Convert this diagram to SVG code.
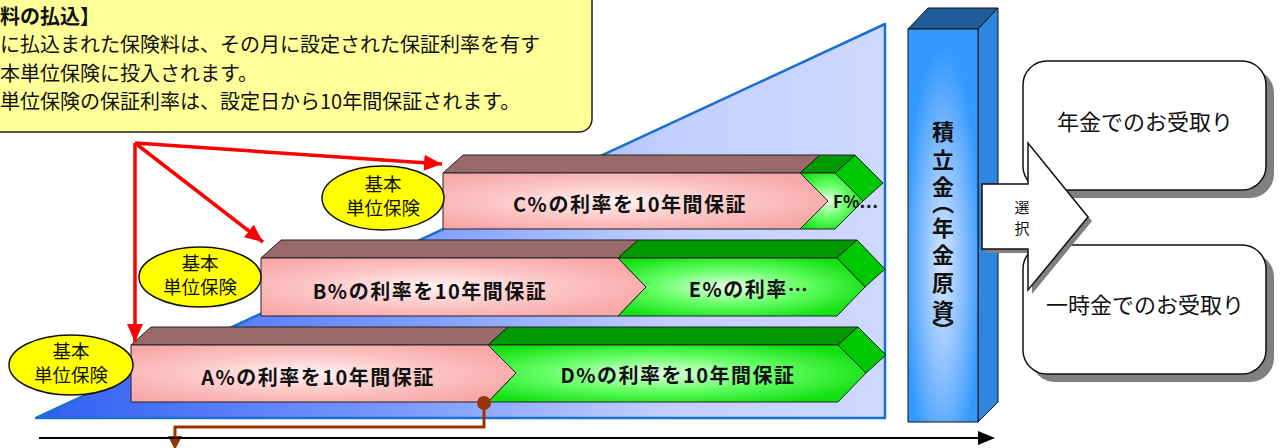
<svg xmlns="http://www.w3.org/2000/svg" width="1283" height="448" viewBox="0 0 1283 448">
<defs>
<linearGradient id="gTrap" x1="0" y1="0" x2="1" y2="0">
<stop offset="0" stop-color="#2f5ff2"/><stop offset="0.45" stop-color="#7f9cff"/><stop offset="0.75" stop-color="#c3d0ff"/><stop offset="1" stop-color="#cdd9ff"/>
</linearGradient>
<radialGradient id="gPink" cx="0.45" cy="0.5" r="0.6">
<stop offset="0" stop-color="#fff4f4"/><stop offset="0.55" stop-color="#fcc4c4"/><stop offset="1" stop-color="#f8a8a8"/>
</radialGradient>
<radialGradient id="gGreen" cx="0.45" cy="0.5" r="0.6">
<stop offset="0" stop-color="#e8ffe8"/><stop offset="0.5" stop-color="#66ff66"/><stop offset="1" stop-color="#11e011"/>
</radialGradient>
<radialGradient id="gCol" cx="0.5" cy="0.6" r="0.55">
<stop offset="0" stop-color="#d6e8ff"/><stop offset="0.5" stop-color="#8cc0ff"/><stop offset="1" stop-color="#3399ff"/>
</radialGradient>
<marker id="mRed" markerUnits="userSpaceOnUse" markerWidth="20" markerHeight="16" refX="18" refY="8" orient="auto">
<path d="M0,0 L18,8 L0,16 z" fill="#ff0000"/>
</marker>
<style>
.face{stroke:#222;stroke-width:1;stroke-linejoin:round}
.brown{fill:#996a6a}
.gtop{fill:#009a00}
.gside{fill:#00c800}
.pink{fill:url(#gPink)}
.green{fill:url(#gGreen)}
.bt{font-family:"Noto Sans CJK JP","Liberation Sans",sans-serif;font-weight:bold;font-size:20px;letter-spacing:1.5px;fill:#111;text-anchor:middle}
.ell{fill:#ffff00;stroke:#111;stroke-width:1.5}
.et{font-family:"Noto Sans CJK JP",sans-serif;font-size:18.5px;fill:#111;text-anchor:middle}
.red{stroke:#ff0000;stroke-width:3.5;fill:none;marker-end:url(#mRed)}
.jt{font-family:"Noto Sans CJK JP",sans-serif;fill:#111}
</style>
</defs>

<g id="background-trapezoid">
<polygon points="36,418 885,24 885,418" fill="url(#gTrap)" stroke="#1a6fd0" stroke-width="2.5" stroke-linejoin="round"/>
</g>

<g id="bar-C">
<polygon class="face brown" points="443,173 463,155 820,155 800,173"/>
<polygon class="face gtop" points="800,173 820,155 855,155 835,173"/>
<polygon class="face gside" points="835,173 855,155 883,183 863,201"/>
<polygon class="face pink" points="443,173 800,173 828,201 800,229 443,229"/>
<polygon class="face green" points="800,173 835,173 863,201 835,229 800,229 828,201"/>
<text class="bt" x="630" y="212">C%の利率を10年間保証</text>
<text class="bt" x="833" y="208" style="text-anchor:start;font-size:17px;letter-spacing:0">F%…</text>
</g>

<g id="bar-B">
<polygon class="face brown" points="261,258 281,240 638,240 618,258"/>
<polygon class="face gtop" points="618,258 638,240 857,240 837,258"/>
<polygon class="face gside" points="837,258 857,240 885,269 865,287"/>
<polygon class="face pink" points="261,258 618,258 646,287 618,316 261,316"/>
<polygon class="face green" points="618,258 837,258 865,287 837,316 618,316 646,287"/>
<text class="bt" x="430" y="299">B%の利率を10年間保証</text>
<text class="bt" x="749" y="297">E%の利率…</text>
</g>

<g id="bar-A">
<polygon class="face brown" points="131,345 151,327 508,327 488,345"/>
<polygon class="face gtop" points="488,345 508,327 858,327 838,345"/>
<polygon class="face gside" points="838,345 858,327 886,355 866,373"/>
<polygon class="face pink" points="131,345 488,345 516,373 488,402 131,402"/>
<polygon class="face green" points="488,345 838,345 866,373 838,402 488,402 516,373"/>
<text class="bt" x="318" y="385">A%の利率を10年間保証</text>
<text class="bt" x="678" y="383">D%の利率を10年間保証</text>
</g>

<g id="unit-1">
<ellipse class="ell" cx="71" cy="365" rx="62" ry="30"/>
<text class="et" x="71" y="358">基本</text>
<text class="et" x="71" y="382">単位保険</text>
</g>
<g id="unit-2">
<ellipse class="ell" cx="200" cy="277" rx="61" ry="30"/>
<text class="et" x="200" y="270">基本</text>
<text class="et" x="200" y="294">単位保険</text>
</g>
<g id="unit-3">
<ellipse class="ell" cx="383" cy="198" rx="61" ry="32"/>
<text class="et" x="383" y="191">基本</text>
<text class="et" x="383" y="215">単位保険</text>
</g>

<g id="connectors">
<line class="red" x1="135" y1="143" x2="135" y2="342"/>
<line class="red" x1="135" y1="143" x2="263" y2="242"/>
<line class="red" x1="135" y1="143" x2="442" y2="164"/>
<path d="M484,403 V427 H175 V438" fill="none" stroke="#993300" stroke-width="3"/>
<polygon points="168,436 182,436 175,450" fill="#993300"/>
<circle cx="484" cy="403" r="7" fill="#993300"/>
<line x1="39" y1="438" x2="980" y2="438" stroke="#000" stroke-width="2"/>
<polygon points="978,431 995,438 978,445" fill="#000"/>
</g>

<g id="reserve-column">
<polygon points="908,29 928,8 998,8 978,29" fill="#1f5c99" stroke="#111" stroke-width="1"/>
<polygon points="978,29 998,8 998,402 978,422" fill="#2e86de" stroke="#111" stroke-width="1"/>
<rect x="908" y="29" width="70" height="393" fill="url(#gCol)" stroke="#111" stroke-width="1"/>
<text class="jt" x="943" y="121" style="writing-mode:vertical-rl;font-size:22px;font-weight:bold"><tspan y="121">積</tspan><tspan y="149">立</tspan><tspan y="176">金</tspan><tspan y="192">（</tspan><tspan y="217">年</tspan><tspan y="244">金</tspan><tspan y="272">原</tspan><tspan y="300">資</tspan><tspan y="320">）</tspan></text>
</g>

<g id="annuity-box">
<rect x="1031" y="69" width="243" height="129" rx="24" fill="#808080"/>
<rect x="1023" y="61" width="243" height="129" rx="24" fill="#fff" stroke="#111" stroke-width="1.5"/>
<text class="jt" x="1145" y="130" style="font-size:22px;text-anchor:middle">年金でのお受取り</text>
</g>

<g id="lumpsum-box">
<rect x="1031" y="253" width="243" height="129" rx="24" fill="#808080"/>
<rect x="1023" y="245" width="243" height="129" rx="24" fill="#fff" stroke="#111" stroke-width="1.5"/>
<text class="jt" x="1145" y="313" style="font-size:22px;text-anchor:middle">一時金でのお受取り</text>
</g>

<g id="choice-arrow">
<polygon points="986,188 1032,188 1032,147 1092,221 1032,294 1032,253 986,253" fill="#808080"/>
<polygon points="982,184 1028,184 1028,143 1088,217 1028,290 1028,249 982,249" fill="#fff" stroke="#111" stroke-width="1.5" stroke-linejoin="miter"/>
<text class="jt" style="font-size:15px;text-anchor:middle"><tspan x="1022" y="213">選</tspan><tspan x="1022" y="234">択</tspan></text>
</g>

<g id="callout">
<rect x="-20" y="-20" width="612" height="152" rx="13" fill="#ffff99" stroke="#222" stroke-width="1.5"/>
<text class="jt" x="0" y="24" style="font-size:20px;font-weight:bold">料の払込】</text>
<text class="jt" x="0" y="52" style="font-size:20px">に払込まれた保険料は、その月に設定された保証利率を有す</text>
<text class="jt" x="0" y="81" style="font-size:20px">本単位保険に投入されます。</text>
<text class="jt" x="0" y="109" style="font-size:20px">単位保険の保証利率は、設定日から10年間保証されます。</text>
</g>
</svg>
